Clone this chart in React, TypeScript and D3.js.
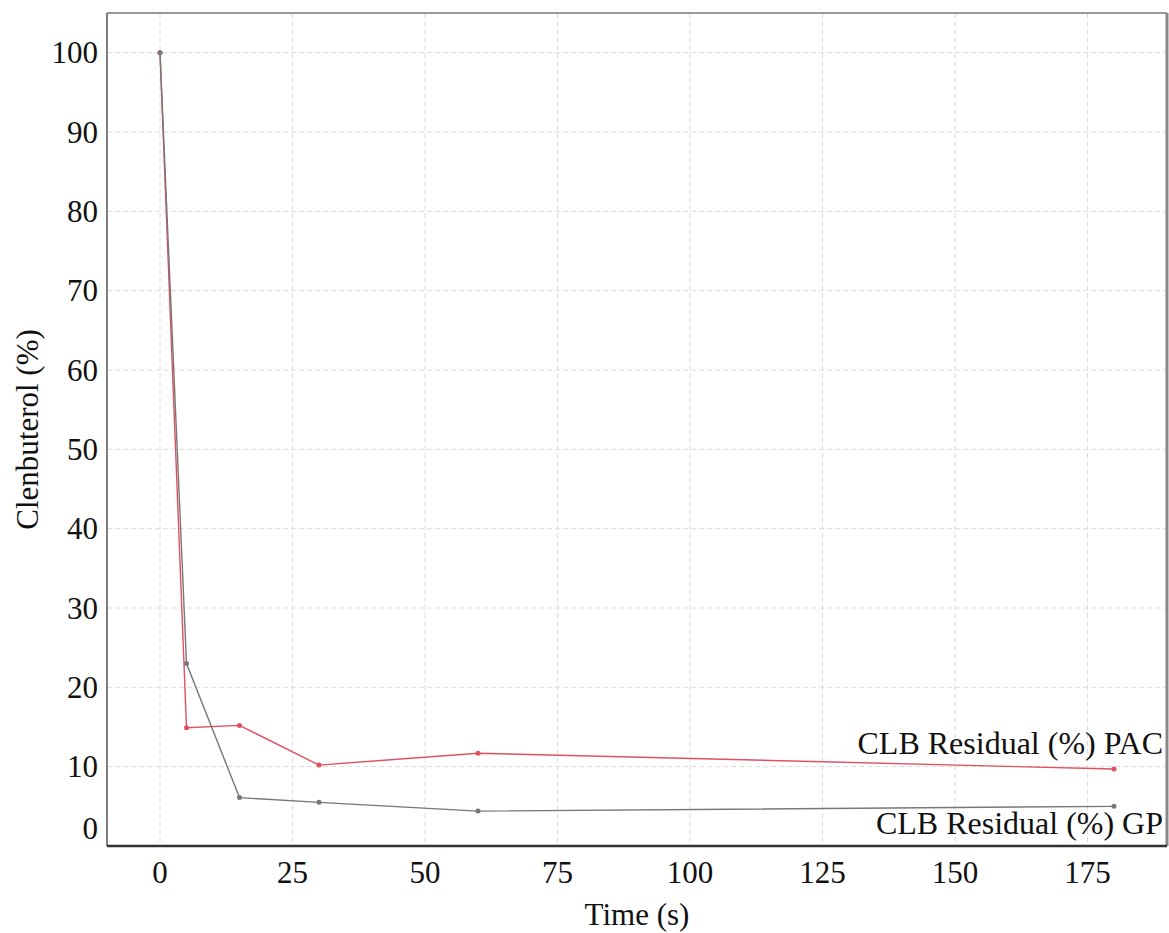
import React from "react";
import * as d3 from "d3";

const times = [0, 5, 15, 30, 60, 180];
const pacValues = [100, 14.9, 15.2, 10.2, 11.7, 9.7];
const gpValues = [100, 23.0, 6.1, 5.5, 4.4, 5.0];
const xTicks = [0, 25, 50, 75, 100, 125, 150, 175];
const yTicks = [0, 10, 20, 30, 40, 50, 60, 70, 80, 90, 100];
const seriesNames = ["CLB Residual (%) PAC", "CLB Residual (%) GP"];

const W = 1169;
const H = 933;
const left = 107, right = 1167, top = 13, bottom = 846;
const FONT = "'Liberation Serif', 'Times New Roman', serif";

export default function App() {
  const x = d3.scaleLinear().domain([-10, 190]).range([left, right]);
  const y = d3.scaleLinear().domain([0, 105]).range([bottom, top]);
  const line = d3
    .line<[number, number]>()
    .x((d) => x(d[0]))
    .y((d) => y(d[1]));
  const pac: [number, number][] = times.map((t, i) => [t, pacValues[i]]);
  const gp: [number, number][] = times.map((t, i) => [t, gpValues[i]]);
  const last = times.length - 1;
  const red = "#e0505f";
  const grey = "#777777";

  return (
    <svg
      width={W}
      height={H}
      style={{ position: "absolute", left: 0, top: 0, background: "#fff" }}
      fontFamily={FONT}
    >
      {yTicks.map((v) => (
        <line
          key={"gy" + v}
          x1={left}
          x2={right}
          y1={y(v)}
          y2={y(v)}
          stroke="#dcdcdc"
          strokeWidth={1}
          strokeDasharray="5,3"
        />
      ))}
      {xTicks.map((v) => (
        <line
          key={"gx" + v}
          x1={x(v)}
          x2={x(v)}
          y1={top}
          y2={bottom}
          stroke="#dcdcdc"
          strokeWidth={1}
          strokeDasharray="5,3"
        />
      ))}
      <line x1={left} x2={right} y1={top} y2={top} stroke="#999" strokeWidth={2} />
      <line x1={right} x2={right} y1={top} y2={bottom} stroke="#888" strokeWidth={3} />
      <line x1={left} x2={left} y1={top} y2={bottom} stroke="#555" strokeWidth={1.5} />
      <line x1={left} x2={right} y1={bottom} y2={bottom} stroke="#333" strokeWidth={2.5} />

      <path d={line(pac) || ""} fill="none" stroke={red} strokeWidth={1.4} />
      {pac.map((d, i) => (
        <circle key={"p" + i} cx={x(d[0])} cy={y(d[1])} r={2.5} fill={red} />
      ))}
      <path d={line(gp) || ""} fill="none" stroke={grey} strokeWidth={1.4} />
      {gp.map((d, i) => (
        <circle key={"g" + i} cx={x(d[0])} cy={y(d[1])} r={2.5} fill={grey} />
      ))}

      <text x={1163} y={y(pacValues[last]) - 15} textAnchor="end" fontSize={32} fill="#111">
        {seriesNames[0]}
      </text>
      <text x={1163} y={y(gpValues[last]) + 28} textAnchor="end" fontSize={32} fill="#111">
        {seriesNames[1]}
      </text>

      {yTicks.map((v) => (
        <text
          key={"ty" + v}
          x={98}
          y={v === 0 ? y(v) - 18 : y(v)}
          textAnchor="end"
          dominantBaseline="central"
          fontSize={31}
          fill="#111"
        >
          {v}
        </text>
      ))}
      {xTicks.map((v) => (
        <text key={"tx" + v} x={x(v)} y={883} textAnchor="middle" fontSize={31} fill="#111">
          {v}
        </text>
      ))}
      <text x={(left + right) / 2} y={925} textAnchor="middle" fontSize={31} fill="#111">
        Time (s)
      </text>
      <text
        transform={`translate(38, ${(top + bottom) / 2}) rotate(-90)`}
        textAnchor="middle"
        fontSize={31}
        fill="#111"
      >
        Clenbuterol (%)
      </text>
    </svg>
  );
}
